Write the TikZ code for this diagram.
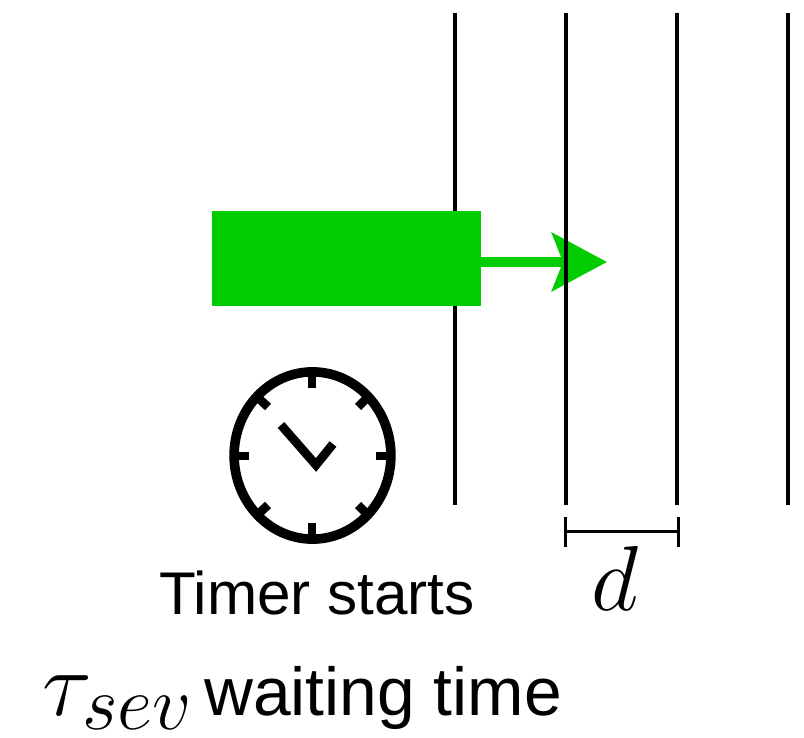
\documentclass[tikz,border=0pt]{standalone}
\usepackage{fontspec}
\setmainfont{Liberation Sans}
\usepackage{xcolor}
\usetikzlibrary{arrows.meta}
\definecolor{cargreen}{HTML}{00CC00}

\begin{document}
\begin{tikzpicture}[
  rail/.style={color=black,line width=0.1cm},
  car/.style={fill=cargreen,minimum width=6.725cm,minimum height=2.375cm,inner sep=0pt},
  motion/.style={-{Stealth[length=1.375cm,width=1.45cm,inset=0.275cm]},color=cargreen,line width=0.2375cm},
  tick/.style={color=black,line width=0.22cm},
  gap/.style={{Bar[width=0.75cm]}-{Bar[width=0.75cm]},color=black,line width=0.075cm},
  maths/.style={font=\Huge,scale=2.64,inner sep=0pt}
]
\useasboundingbox (0,0) rectangle (20.1,18.425);
\draw[rail] (11.375,18.1) -- (11.375,5.8);
\node[car] (car) at (8.6625,11.9625) {};
\coordinate (tip) at (15.175,11.875);
\draw[motion] (car.east |- tip) -- (tip);
\foreach \x in {14.15,16.925,19.7} {
  \draw[rail] (\x,18.1) -- (\x,5.8);
}
\draw[color=black,line width=0.24cm] (7.8125,7.0375) ellipse (1.96cm and 2.09cm);
\foreach \a/\b/\c/\d in {
  7.8/9.125/7.8/8.725, 7.8/4.95/7.8/5.35, 5.875/7.025/6.225/7.025, 9.75/7.025/9.4/7.025,
  6.375/8.55/6.7/8.25, 9.25/8.55/8.95/8.25, 6.375/5.5/6.7/5.8, 9.25/5.5/8.95/5.8
} {
  \draw[tick] (\a,\b) -- (\c,\d);
}
\draw[tick] (7.025,7.8) -- (7.9,6.8) -- (8.325,7.325);
\coordinate (gapl) at (14.11,5.13);
\coordinate (gapr) at (17.01,5.13);
\draw[gap] (gapl) -- (gapr);
\node[anchor=base,maths] (dlabel) at (15.37,3.15) {$d$};
\node[anchor=base,font=\fontsize{42.85}{46}\selectfont] (timer) at (7.925,3.05) {Timer starts};
\node[anchor=base west,maths] (tausev) at (1.05,0.525) {$\tau_{sev}$};
\node[anchor=base west,inner sep=0pt,font=\fontsize{48.2}{52}\selectfont] (wait) at (5.1,0.525) {waiting time};
\end{tikzpicture}
\end{document}
